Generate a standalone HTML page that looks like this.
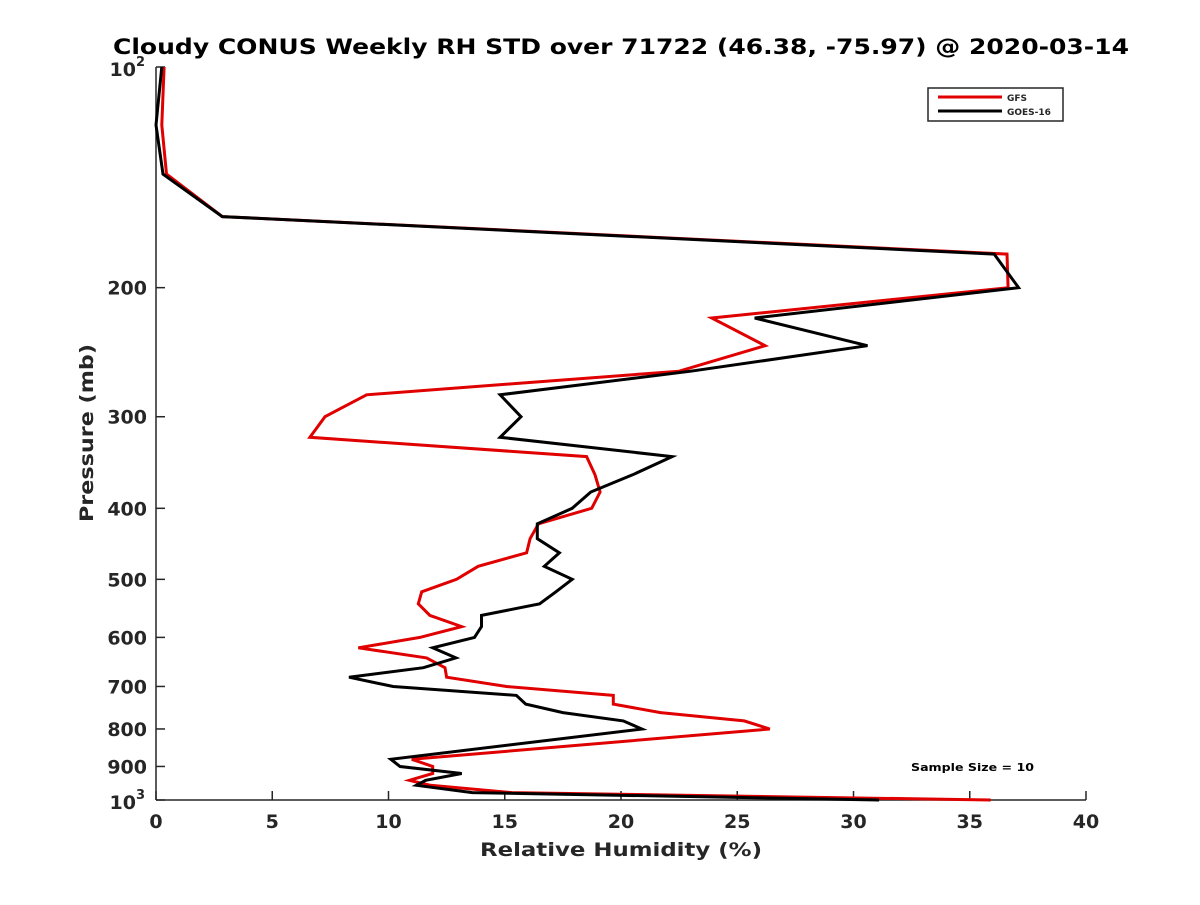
<!DOCTYPE html>
<html><head><meta charset="utf-8"><style>
html,body{margin:0;padding:0;background:#fff;}
svg text{font-family:"DejaVu Sans","Liberation Sans",sans-serif;font-weight:bold;fill:#262626;}
</style></head><body>
<svg id="chart" width="1200" height="900" viewBox="0 0 1200 900" xmlns="http://www.w3.org/2000/svg">
<rect width="1200" height="900" fill="#fff"/>
<text x="621" y="54" text-anchor="middle" font-size="21" textLength="1016" lengthAdjust="spacingAndGlyphs" style="fill:#000">Cloudy CONUS Weekly RH STD over 71722 (46.38, -75.97) @ 2020-03-14</text>
<g id="axes"></g>
<g id="series"></g>
<text x="621" y="856" text-anchor="middle" font-size="19" textLength="282" lengthAdjust="spacingAndGlyphs">Relative Humidity (%)</text>
<text x="93" y="433" text-anchor="middle" font-size="19" textLength="178" lengthAdjust="spacingAndGlyphs" transform="rotate(-90 93 433)">Pressure (mb)</text>
<g>
<rect x="928" y="88" width="135" height="33" fill="#fff" stroke="#262626" stroke-width="1.5"/>
<line x1="938" y1="97" x2="1002" y2="97" stroke="#e00000" stroke-width="3"/>
<text x="1007" y="101" font-size="9">GFS</text>
<line x1="938" y1="111" x2="1002" y2="111" stroke="#000" stroke-width="3"/>
<text x="1007" y="115" font-size="9">GOES-16</text>
</g>
<text x="911" y="771" font-size="11" textLength="123" lengthAdjust="spacingAndGlyphs" style="fill:#000">Sample Size = 10</text>
</svg>
<script>
const pressureLevels = [100,120,140,160,180,200,220,240,260,280,300,320,340,360,380,400,420,440,460,480,500,520,540,560,580,600,620,640,660,680,700,720,740,760,780,800,880,900,920,940,955,977,1000];
const gfsValues = [0.35,0.25,0.45,2.85,36.6,36.65,23.9,26.2,22.5,9.06,7.27,6.62,18.52,18.88,19.1,18.74,16.45,16.09,15.94,13.86,12.93,11.43,11.28,11.78,13.15,11.35,8.7,11.64,12.43,12.5,15.08,19.67,19.67,21.7,25.3,26.4,11.0,11.9,11.9,10.9,11.8,15.3,35.9];
const goesValues = [0.25,0.0,0.3,2.85,36.05,37.1,25.75,30.6,23.0,14.8,15.7,14.8,22.2,20.5,18.7,17.9,16.4,16.4,17.35,16.7,17.9,17.2,16.5,14.0,14.0,13.7,11.9,12.9,11.5,8.3,10.2,15.5,15.9,17.5,20.1,20.9,10.1,10.5,13.15,11.6,11.2,13.6,31.1];
const xTicks = [0,5,10,15,20,25,30,35,40];
const yTickLabels = [200,300,400,500,600,700,800,900];

const L=156,R=1086,T=67,B=800;
function xs(v){return L+(v-0)/(40-0)*(R-L);}
function ys(p){return T+(Math.log10(p)-2)*(B-T);}
const NS="http://www.w3.org/2000/svg";
function mk(tag,attrs,parent){const e=document.createElementNS(NS,tag);for(const k in attrs)e.setAttribute(k,attrs[k]);parent.appendChild(e);return e;}
const axes=document.getElementById('axes');
const ax=mk('line',{x1:L,y1:B,x2:R,y2:B,stroke:'#262626','stroke-width':1.5},axes);


const ay=mk('line',{x1:L,y1:T,x2:L,y2:B,stroke:'#262626','stroke-width':1.5},axes);


xTicks.forEach(v=>{
  const t=mk('line',{x1:xs(v),y1:B,x2:xs(v),y2:B-9,stroke:'#262626','stroke-width':1.5},axes);
  
  
  const tx=mk('text',{x:xs(v),y:B+28,'text-anchor':'middle','font-size':19},axes);
  tx.textContent=v;
  
  
});
[100,1000].concat(yTickLabels).forEach(p=>{
  const t=mk('line',{x1:L,y1:ys(p),x2:L+9,y2:ys(p),stroke:'#262626','stroke-width':1.5},axes);
  
  
});
yTickLabels.forEach(p=>{
  const tx=mk('text',{x:L-9,y:ys(p)+7,'text-anchor':'end','font-size':19},axes);
  tx.textContent=p;
  
  
});
[[100,'2'],[1000,'3']].forEach(([p,e])=>{
  const tx=mk('text',{x:L-20,y:ys(p)+9,'text-anchor':'end','font-size':19},axes);
  tx.textContent='10';
  
  
  const sp=mk('text',{x:L-20,y:ys(p)-1,'font-size':13},axes);
  sp.textContent=e;
  
  
});
const series=document.getElementById('series');
function draw(vals,color,name){
  const pts=vals.map((v,i)=>xs(v).toFixed(1)+','+ys(pressureLevels[i]).toFixed(1)).join(' ');
  const pl=mk('polyline',{points:pts,fill:'none',stroke:color,'stroke-width':3,'stroke-linejoin':'miter'},series);
  
  
}
draw(gfsValues,'#e00000','gfs-line');
draw(goesValues,'#000000','goes16-line');
</script>
</body></html>
